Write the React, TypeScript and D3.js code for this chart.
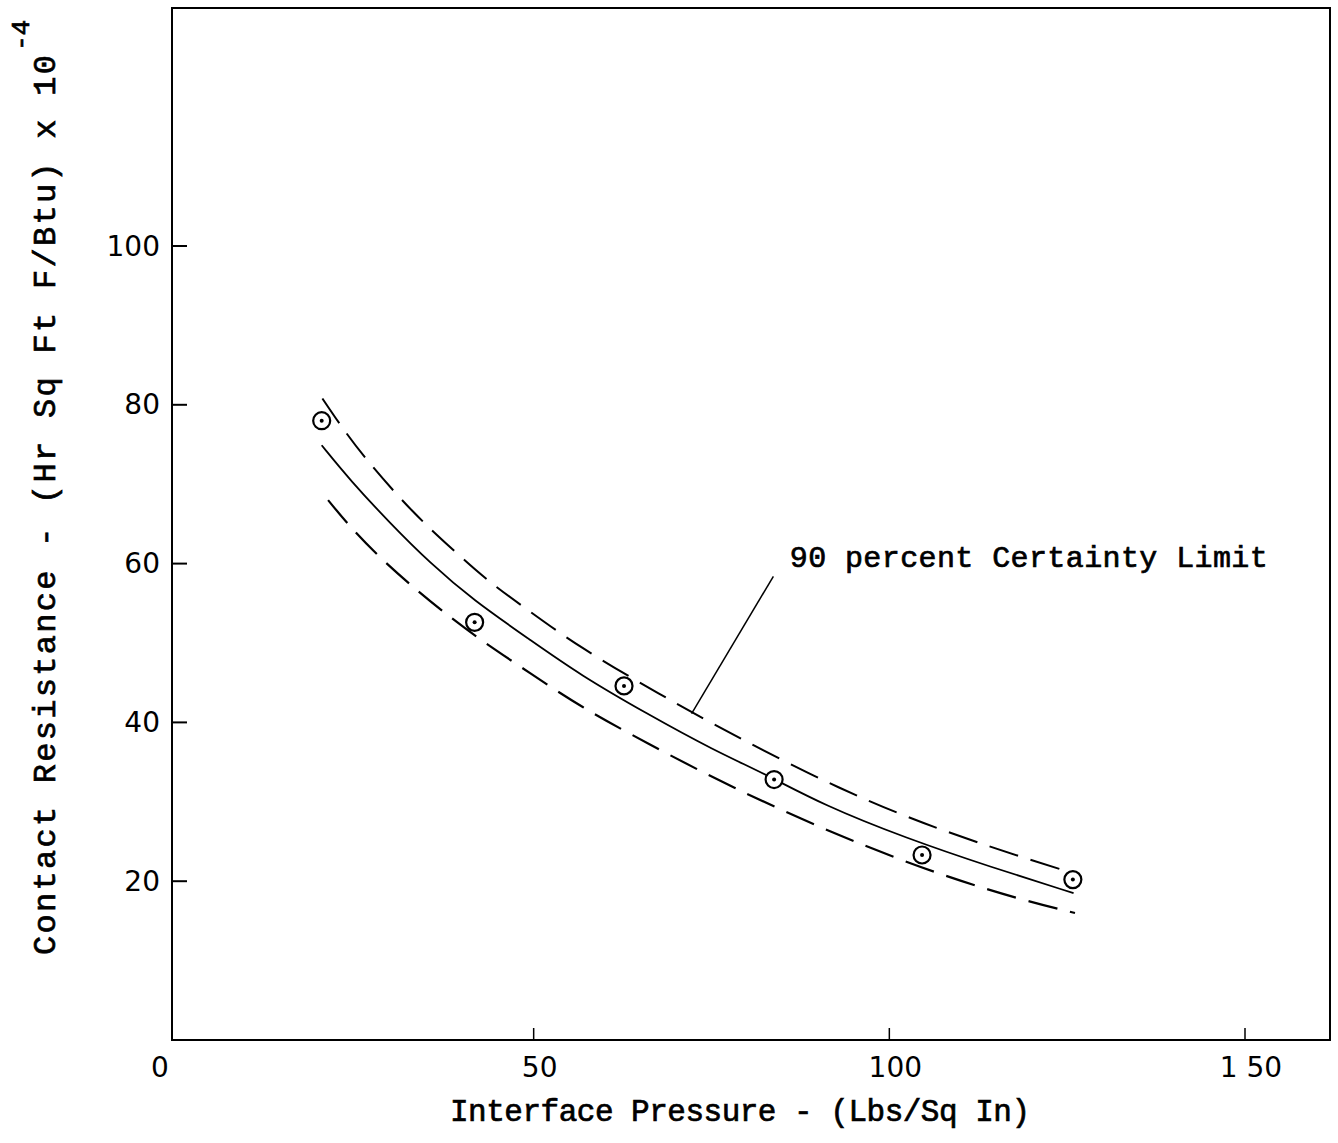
import React from "react";
import * as d3 from "d3";

// Measured data points (circle-dot markers)
const pressure = [20.2, 41.7, 62.7, 83.8, 104.6, 125.8];
const resistance = [78.0, 52.6, 44.6, 32.8, 23.3, 20.2];

// Fitted (solid) curve
const fitX = [20.2, 24.2, 29.8, 35.4, 41.5, 49.5, 56.5, 65.9, 75.3, 82.8, 90.7, 102.4, 114.2, 125.9];
const fitY = [74.9, 70.5, 65.1, 60.1, 55.4, 50.4, 46.0, 41.1, 36.5, 33.4, 29.6, 25.4, 21.8, 18.5];

// Upper 90 percent certainty limit (dashed)
const upperX = [20.3, 23.0, 26.5, 33.1, 38.7, 43.4, 48.8, 56.5, 67.8, 77.6, 93.1, 107.1, 121.2, 125.9];
const upperY = [80.8, 77.2, 73.0, 66.3, 61.7, 57.9, 54.4, 49.4, 43.5, 38.6, 31.5, 26.4, 22.3, 21.0];

// Lower 90 percent certainty limit (dashed)
const lowerX = [21.1, 24.2, 28.4, 34.0, 38.2, 42.5, 49.5, 56.5, 65.9, 77.6, 93.1, 107.1, 118.8, 126.1];
const lowerY = [68.0, 64.6, 60.7, 56.3, 53.3, 50.4, 46.2, 42.0, 37.4, 31.9, 25.6, 20.8, 17.6, 16.0];

// Ticks
const xTicks = [0, 50, 100, 150];
const xTickLabels = ["0", "50", "100", "1 50"];
const yTicks = [20, 40, 60, 80, 100];
const yTickLabels = ["20", "40", "60", "80", "100"];

// Annotation
const annotationText = "90 percent Certainty Limit";
const leaderFrom = [83.7, 58.4];
const leaderTo = [72.2, 41.1];
const annotationAt = [86.0, 59.6];

const xLabel = "Interface Pressure - (Lbs/Sq In)";
const yLabel = "Contact Resistance - (Hr Sq Ft F/Btu) x 10";
const yLabelSup = "-4";

const W = 1338;
const H = 1143;
const frame = { left: 172, top: 8, right: 1330, bottom: 1040 };

const TYPE = "'Liberation Mono', 'Courier New', monospace";
const LETTER = "'DejaVu Sans', 'Liberation Sans', sans-serif";

export default function App() {
  const x = d3.scaleLinear().domain([0, 150]).range([178, 1245]);
  const y = d3.scaleLinear().domain([0, 100]).range([1040, 246]);

  const line = d3
    .line<[number, number]>()
    .x((d) => x(d[0]))
    .y((d) => y(d[1]))
    .curve(d3.curveBasis);

  const fit = fitX.map((v, i) => [v, fitY[i]] as [number, number]);
  const upper = upperX.map((v, i) => [v, upperY[i]] as [number, number]);
  const lower = lowerX.map((v, i) => [v, lowerY[i]] as [number, number]);

  const typeStyle = { stroke: "#000", strokeWidth: 0.7 };

  return (
    <svg
      width={W}
      height={H}
      viewBox={`0 0 ${W} ${H}`}
      style={{ position: "absolute", left: 0, top: 0, background: "#fff", display: "block" }}
    >
      <rect x={0} y={0} width={W} height={H} fill="#fff" />
      {/* frame */}
      <rect
        x={frame.left}
        y={frame.top}
        width={frame.right - frame.left}
        height={frame.bottom - frame.top}
        fill="none"
        stroke="#000"
        strokeWidth={2}
      />
      {/* y ticks */}
      {yTicks.map((t, i) => (
        <g key={"yt" + t}>
          <line x1={frame.left} x2={frame.left + 15} y1={y(t)} y2={y(t)} stroke="#000" strokeWidth={2} />
          <text
            x={frame.left - 12}
            y={y(t)}
            textAnchor="end"
            dominantBaseline="central"
            fontFamily={LETTER}
            fontSize={28}
            fill="#000"
          >
            {yTickLabels[i]}
          </text>
        </g>
      ))}
      {/* x ticks */}
      {xTicks.map((t, i) => (
        <g key={"xt" + t}>
          {t > 0 && (
            <line x1={x(t)} x2={x(t)} y1={frame.bottom} y2={frame.bottom - 12} stroke="#000" strokeWidth={1.5} />
          )}
          <text
            x={t === 0 ? x(t) - 18 : x(t) + 6}
            y={frame.bottom + 37}
            textAnchor="middle"
            fontFamily={LETTER}
            fontSize={28}
            fill="#000"
          >
            {xTickLabels[i]}
          </text>
        </g>
      ))}

      {/* curves */}
      <path d={line(fit) || ""} fill="none" stroke="#000" strokeWidth={1.8} />
      <path d={line(upper) || ""} fill="none" stroke="#000" strokeWidth={2} strokeDasharray="30 13" />
      <path d={line(lower) || ""} fill="none" stroke="#000" strokeWidth={2.2} strokeDasharray="30 13" />

      {/* data points */}
      {pressure.map((p, i) => (
        <g key={"pt" + i}>
          <circle cx={x(p)} cy={y(resistance[i])} r={8.5} fill="#fff" stroke="#000" strokeWidth={2.2} />
          <circle cx={x(p)} cy={y(resistance[i])} r={2} fill="#000" />
        </g>
      ))}

      {/* annotation */}
      <line
        x1={x(leaderFrom[0])}
        y1={y(leaderFrom[1])}
        x2={x(leaderTo[0])}
        y2={y(leaderTo[1])}
        stroke="#000"
        strokeWidth={1.5}
      />
      <text
        x={x(annotationAt[0])}
        y={y(annotationAt[1])}
        fontFamily={TYPE}
        fontSize={30}
        textLength={478}
        lengthAdjust="spacing"
        fill="#000"
        {...typeStyle}
      >
        {annotationText}
      </text>

      {/* x label */}
      <text
        x={450}
        y={1121}
        fontFamily={TYPE}
        fontSize={31}
        textLength={580}
        lengthAdjust="spacing"
        fill="#000"
        {...typeStyle}
      >
        {xLabel}
      </text>

      {/* y label */}
      <g transform="translate(55,955) rotate(-90)">
        <text
          x={0}
          y={0}
          fontFamily={TYPE}
          fontSize={32}
          textLength={900}
          lengthAdjust="spacing"
          fill="#000"
          {...typeStyle}
        >
          {yLabel}
        </text>
        <text x={904} y={-26} fontFamily={TYPE} fontSize={26} fill="#000" {...typeStyle}>
          {yLabelSup}
        </text>
      </g>
    </svg>
  );
}
